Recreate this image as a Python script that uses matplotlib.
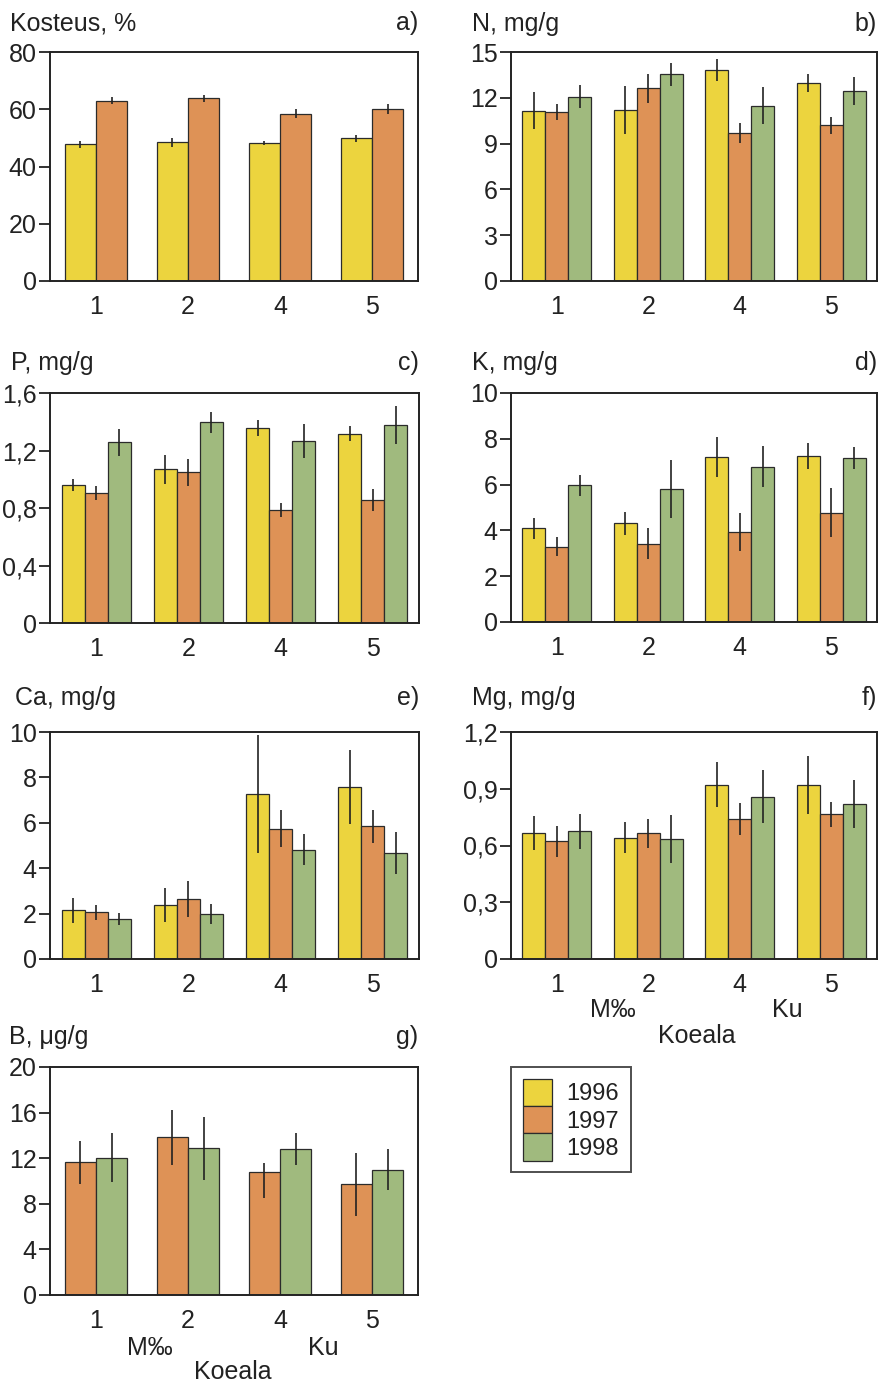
import numpy as np
import matplotlib.pyplot as plt
from matplotlib.patches import Patch

plt.rcParams['font.family'] = ['Liberation Sans', 'DejaVu Sans']
plt.rcParams['font.size'] = 18

## data
koealat = ['1', '2', '4', '5']
vuodet = ['1996', '1997', '1998']
varit = ['#ecd43e', '#de9256', '#a0ba7e']

# a) Kosteus, %  (1996, 1997)
kost_96 = [47.8, 48.4, 48.2, 49.8]
kost_96_err = [1.2, 1.6, 0.8, 1.2]
kost_97 = [63.0, 63.8, 58.5, 60.1]
kost_97_err = [1.3, 1.3, 1.6, 1.8]

# b) N, mg/g
n_96 = [11.15, 11.2, 13.82, 12.99]
n_96_err = [1.2, 1.57, 0.71, 0.58]
n_97 = [11.09, 12.62, 9.71, 10.21]
n_97_err = [0.52, 0.95, 0.67, 0.56]
n_98 = [12.07, 13.54, 11.48, 12.46]
n_98_err = [0.74, 0.74, 1.2, 0.9]

# c) P, mg/g
p_96 = [0.96, 1.07, 1.356, 1.316]
p_96_err = [0.044, 0.10, 0.055, 0.051]
p_97 = [0.902, 1.047, 0.784, 0.853]
p_97_err = [0.049, 0.095, 0.049, 0.077]
p_98 = [1.256, 1.395, 1.265, 1.377]
p_98_err = [0.097, 0.07, 0.116, 0.13]

# d) K, mg/g
k_96 = [4.09, 4.31, 7.21, 7.26]
k_96_err = [0.45, 0.51, 0.87, 0.57]
k_97 = [3.29, 3.41, 3.93, 4.77]
k_97_err = [0.41, 0.68, 0.84, 1.08]
k_98 = [5.97, 5.81, 6.78, 7.15]
k_98_err = [0.46, 1.28, 0.9, 0.49]

# e) Ca, mg/g
ca_96 = [2.14, 2.37, 7.26, 7.57]
ca_96_err = [0.54, 0.74, 2.61, 1.63]
ca_97 = [2.05, 2.65, 5.74, 5.84]
ca_97_err = [0.31, 0.80, 0.81, 0.73]
ca_98 = [1.76, 1.99, 4.82, 4.67]
ca_98_err = [0.27, 0.45, 0.67, 0.91]

# f) Mg, mg/g
mg_96 = [0.666, 0.641, 0.922, 0.919]
mg_96_err = [0.091, 0.081, 0.12, 0.152]
mg_97 = [0.622, 0.664, 0.741, 0.764]
mg_97_err = [0.083, 0.076, 0.085, 0.064]
mg_98 = [0.676, 0.636, 0.859, 0.82]
mg_98_err = [0.093, 0.126, 0.139, 0.127]

# g) B, ug/g  (1997, 1998)
b_97 = [11.63, 13.82, 10.75, 9.7]
b_97_lo = [1.9, 2.43, 2.2, 2.75]
b_97_hi = [1.9, 2.43, 0.85, 2.75]
b_98 = [12.06, 12.86, 12.83, 10.98]
b_98_err = [2.15, 2.74, 1.4, 1.79]

W, H = 881, 1383
fig = plt.figure(figsize=(W / 100, H / 100), dpi=100)
tekstiväri = '#222222'


def px_axes(l, t, r, b):
    return fig.add_axes([l / W, 1 - b / H, (r - l) / W, (b - t) / H])


def paneeli(box, sarjat, ylim, yticks, yticklabels, otsikko, kirjain, otsx, otsy):
    ax = px_axes(*box)
    x = np.arange(1, len(koealat) + 1)
    n = len(sarjat)
    w = 0.25 if n == 3 else 0.337
    for i, (arvot, virhe, vari) in enumerate(sarjat):
        xi = x + (i - (n - 1) / 2) * w
        ax.bar(xi, arvot, width=w, color=vari, edgecolor='#2b2b2b', linewidth=0.9, zorder=2)
        ax.errorbar(xi, arvot, yerr=virhe, fmt='none', ecolor='#222222',
                    elinewidth=1.2, capsize=0, zorder=3)
    ax.set_xlim(0.5, 4.5)
    ax.set_ylim(*ylim)
    ax.set_yticks(yticks)
    ax.set_yticklabels(yticklabels)
    ax.set_xticks(x)
    ax.set_xticklabels(koealat)
    ax.tick_params(axis='x', length=0, pad=10, labelsize=18, colors=tekstiväri)
    ax.tick_params(axis='y', length=8, width=1.3, pad=1.5, labelsize=18, colors=tekstiväri)
    for s in ax.spines.values():
        s.set_linewidth(1.4)
        s.set_color(tekstiväri)
    fig.text(otsx / W, 1 - otsy / H, otsikko, ha='left', va='center', fontsize=18, color=tekstiväri)
    fig.text(box[2] / W, 1 - otsy / H, kirjain, ha='right', va='center', fontsize=18, color=tekstiväri)
    return ax


paneeli((50, 52, 418, 281),
        [(kost_96, kost_96_err, varit[0]), (kost_97, kost_97_err, varit[1])],
        (0, 80), [0, 20, 40, 60, 80], ['0', '20', '40', '60', '80'],
        'Kosteus, %', 'a)', 10, 23)
paneeli((511, 52, 877, 281),
        [(n_96, n_96_err, varit[0]), (n_97, n_97_err, varit[1]), (n_98, n_98_err, varit[2])],
        (0, 15), [0, 3, 6, 9, 12, 15], ['0', '3', '6', '9', '12', '15'],
        'N, mg/g', 'b)', 472, 24)
paneeli((50, 393, 419, 623),
        [(p_96, p_96_err, varit[0]), (p_97, p_97_err, varit[1]), (p_98, p_98_err, varit[2])],
        (0, 1.6), [0, 0.4, 0.8, 1.2, 1.6], ['0', '0,4', '0,8', '1,2', '1,6'],
        'P, mg/g', 'c)', 11, 363)
paneeli((511, 393, 877, 622),
        [(k_96, k_96_err, varit[0]), (k_97, k_97_err, varit[1]), (k_98, k_98_err, varit[2])],
        (0, 10), [0, 2, 4, 6, 8, 10], ['0', '2', '4', '6', '8', '10'],
        'K, mg/g', 'd)', 472, 363)
paneeli((50, 732, 419, 959),
        [(ca_96, ca_96_err, varit[0]), (ca_97, ca_97_err, varit[1]), (ca_98, ca_98_err, varit[2])],
        (0, 10), [0, 2, 4, 6, 8, 10], ['0', '2', '4', '6', '8', '10'],
        'Ca, mg/g', 'e)', 15, 698)
paneeli((511, 732, 877, 959),
        [(mg_96, mg_96_err, varit[0]), (mg_97, mg_97_err, varit[1]), (mg_98, mg_98_err, varit[2])],
        (0, 1.2), [0, 0.3, 0.6, 0.9, 1.2], ['0', '0,3', '0,6', '0,9', '1,2'],
        'Mg, mg/g', 'f)', 472, 698)
paneeli((50, 1067, 418, 1295),
        [(b_97, [b_97_lo, b_97_hi], varit[1]), (b_98, b_98_err, varit[2])],
        (0, 20), [0, 4, 8, 12, 16, 20], ['0', '4', '8', '12', '16', '20'],
        'B, \u03bcg/g', 'g)', 9, 1037)

# koeala-tekstit
for xm, xk, xko, ym, yko in [(613, 787, 697, 1010, 1036), (150, 323, 233, 1348, 1372)]:
    fig.text(xm / W, 1 - ym / H, 'M\u2030', ha='center', va='center', fontsize=18, color=tekstiväri)
    fig.text(xk / W, 1 - ym / H, 'Ku', ha='center', va='center', fontsize=18, color=tekstiväri)
    fig.text(xko / W, 1 - yko / H, 'Koeala', ha='center', va='center', fontsize=18, color=tekstiväri)

kahvat = [Patch(facecolor=c, edgecolor='#2b2b2b', linewidth=0.9) for c in varit]
leg = fig.legend(kahvat, vuodet, loc='upper left', bbox_to_anchor=(511 / W, 1 - 1067 / H),
                 fontsize=17, frameon=True, fancybox=False, edgecolor=tekstiväri,
                 handlelength=1.23, handleheight=1.4, labelspacing=0.0,
                 handletextpad=0.63, borderpad=0.5, borderaxespad=0)
leg.get_frame().set_linewidth(1.4)
for t in leg.get_texts():
    t.set_color(tekstiväri)

fig.savefig('out.png', dpi=100)
